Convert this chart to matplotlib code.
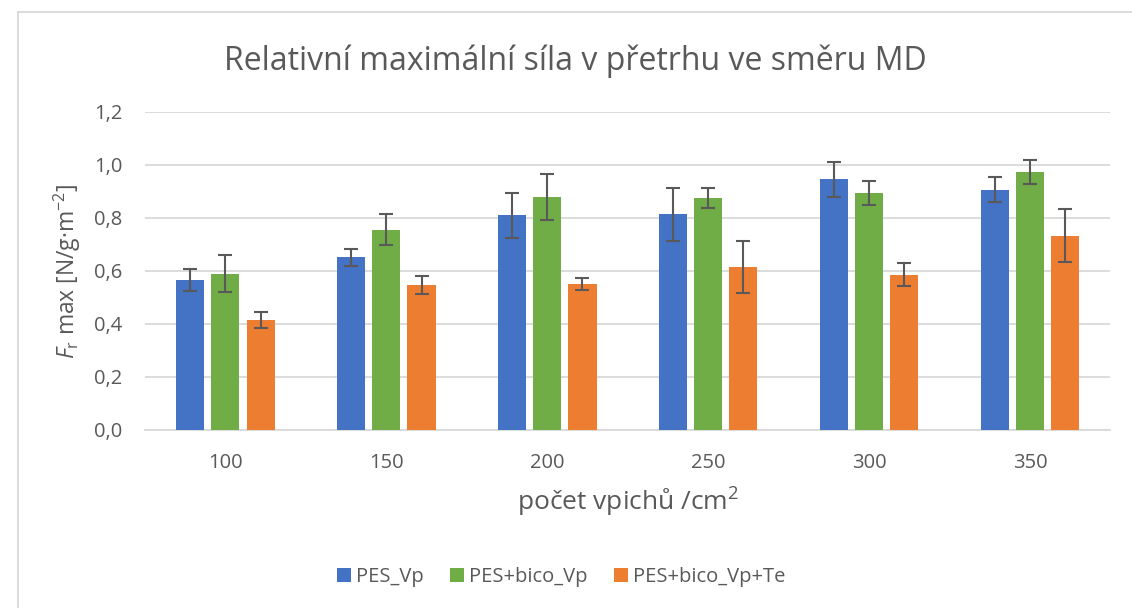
import matplotlib.pyplot as plt
import numpy as np
from matplotlib.lines import Line2D

plt.rcParams['font.family'] = ['Open Sans', 'DejaVu Sans']
plt.rcParams['mathtext.fontset'] = 'custom'
plt.rcParams['mathtext.rm'] = 'Open Sans'
plt.rcParams['mathtext.it'] = 'Open Sans:italic'

categories = ['100', '150', '200', '250', '300', '350']
series = ['PES_Vp', 'PES+bico_Vp', 'PES+bico_Vp+Te']
colors = ['#4472C4', '#70AD47', '#ED7D31']

pes_vp = [0.566, 0.651, 0.810, 0.814, 0.946, 0.906]
pes_vp_err = [0.041, 0.033, 0.085, 0.100, 0.066, 0.048]
bico_vp = [0.589, 0.756, 0.878, 0.875, 0.895, 0.974]
bico_vp_err = [0.070, 0.057, 0.086, 0.037, 0.046, 0.046]
bico_te = [0.414, 0.547, 0.550, 0.614, 0.586, 0.733]
bico_te_err = [0.029, 0.035, 0.024, 0.099, 0.045, 0.099]

values = [pes_vp, bico_vp, bico_te]
errors = [pes_vp_err, bico_vp_err, bico_te_err]

txt = '#595959'
grid = '#d9d9d9'

fig = plt.figure(figsize=(11.32, 6.08), dpi=100)
ax = fig.add_axes([0.128, 0.293, 0.853, 0.523])

x = np.arange(len(categories))
w = 0.175
step = 0.219
for i in range(3):
    ax.bar(x + (i - 1) * step, values[i], w, color=colors[i], label=series[i],
           yerr=errors[i], capsize=5,
           error_kw=dict(ecolor=txt, elinewidth=1.5, capthick=1.5), zorder=3)

ax.set_ylim(0, 1.2)
ax.set_xlim(-0.5, len(categories) - 0.5)
ax.set_yticks(np.arange(0, 1.21, 0.2))
ax.set_yticklabels([f'{v:.1f}'.replace('.', ',') for v in np.arange(0, 1.21, 0.2)])
ax.set_xticks(x)
ax.set_xticklabels(categories)
ax.tick_params(length=0, labelsize=14.5, colors=txt)
ax.tick_params(axis='x', pad=17)
ax.tick_params(axis='y', pad=16)
ax.yaxis.grid(True, color=grid, linewidth=1.3, zorder=0)
for s in ['top', 'right', 'left']:
    ax.spines[s].set_visible(False)
ax.spines['bottom'].set_color(grid)
ax.spines['bottom'].set_linewidth(1.3)

ax.set_xlabel('počet vpichů /cm$^2$', fontsize=19, color=txt, labelpad=9)
ax.set_ylabel('$\\mathit{F}_\\mathrm{r}$ max [N/g·m$^{\u2212 2}$]', fontsize=16.5, color=txt, labelpad=8)
fig.text(0.508, 0.9, 'Relativní maximální síla v přetrhu ve směru MD', ha='center', va='center',
         fontsize=23, color=txt)

fig.legend(loc='center', bbox_to_anchor=(0.496, 0.051), ncol=3, frameon=False,
           fontsize=14.5, handlelength=0.7, handleheight=0.7, columnspacing=1.3,
           handletextpad=0.25, labelcolor=txt)

# chart border
fig.add_artist(Line2D([18 / 1132, 18 / 1132], [0, 1 - 12 / 608], color=grid, lw=1.3, transform=fig.transFigure))
fig.add_artist(Line2D([18 / 1132, 1], [1 - 12 / 608, 1 - 12 / 608], color=grid, lw=1.3, transform=fig.transFigure))

fig.savefig('out.png', dpi=100)
